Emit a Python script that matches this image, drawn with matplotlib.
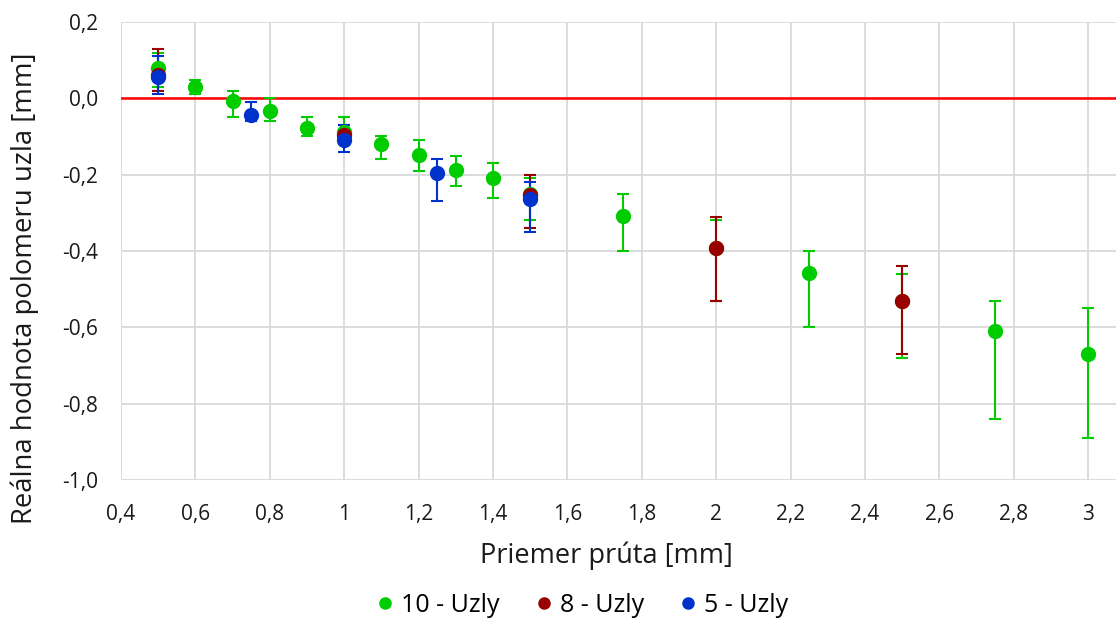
import numpy as np
import matplotlib
matplotlib.use("Agg")
import matplotlib.pyplot as plt
from matplotlib.ticker import FuncFormatter, MultipleLocator

plt.rcParams['font.family'] = ['Open Sans', 'DejaVu Sans']

# 10 - Uzly
x10 = [0.5, 0.6, 0.7, 0.8, 0.9, 1.0, 1.1, 1.2, 1.3, 1.4, 1.5, 1.75, 2.0, 2.25, 2.5, 2.75, 3.0]
y10 = [0.079, 0.030, -0.008, -0.034, -0.077, -0.088, -0.121, -0.149, -0.188, -0.209, -0.250,
       -0.308, -0.392, -0.457, -0.532, -0.609, -0.671]
hi10 = [0.12, 0.049, 0.019, 0.0, -0.05, -0.05, -0.10, -0.11, -0.15, -0.17, -0.21,
        -0.25, -0.32, -0.40, -0.46, -0.53, -0.55]
lo10 = [0.03, 0.01, -0.05, -0.06, -0.10, -0.12, -0.16, -0.19, -0.23, -0.26, -0.32,
        -0.40, -0.53, -0.60, -0.68, -0.84, -0.89]

# 8 - Uzly
x8 = [0.5, 1.0, 1.5, 2.0, 2.5]
y8 = [0.060, -0.095, -0.253, -0.392, -0.532]
hi8 = [0.13, -0.07, -0.20, -0.31, -0.44]
lo8 = [0.019, -0.12, -0.34, -0.53, -0.67]

# 5 - Uzly
x5 = [0.5, 0.75, 1.0, 1.25, 1.5]
y5 = [0.055, -0.043, -0.108, -0.197, -0.263]
hi5 = [0.11, -0.01, -0.07, -0.16, -0.22]
lo5 = [0.01, -0.06, -0.14, -0.27, -0.35]

series = [
    ("10 - Uzly", x10, y10, hi10, lo10, "#00cc00"),
    ("8 - Uzly", x8, y8, hi8, lo8, "#990000"),
    ("5 - Uzly", x5, y5, hi5, lo5, "#0033cc"),
]

fig = plt.figure(figsize=(11.16, 6.19), dpi=100)
ax = fig.add_axes([0.1084, 0.2246, 0.8916, 0.7399])

for label, x, y, hi, lo, col in series:
    y = np.array(y)
    yerr = [y - np.array(lo), np.array(hi) - y]
    ax.errorbar(x, y, yerr=yerr, fmt='o', color=col, ecolor=col, markersize=10,
                elinewidth=1.5, capsize=4.5, capthick=1.5, label=label, zorder=3)

ax.axhline(0, color='#ff0000', linewidth=1.8, zorder=2)

ax.set_xlim(0.4, 3.075)
ax.set_ylim(-1.0, 0.2)
ax.xaxis.set_major_locator(MultipleLocator(0.2))
ax.yaxis.set_major_locator(MultipleLocator(0.2))


def fmt_x(v, pos):
    if abs(v - round(v)) < 1e-6:
        return str(int(round(v)))
    return f"{v:.1f}".replace('.', ',')


def fmt_y(v, pos):
    s = f"{v:.1f}".replace('.', ',')
    if s == "-0,0":
        s = "0,0"
    return s


ax.xaxis.set_major_formatter(FuncFormatter(fmt_x))
ax.yaxis.set_major_formatter(FuncFormatter(fmt_y))
ax.grid(True, color='#d9d9d9', linewidth=1.3)
ax.set_axisbelow(True)
for s in ax.spines.values():
    s.set_visible(False)
ax.tick_params(length=0, labelsize=15, colors='#1a1a1a')
ax.tick_params(axis='x', pad=17)
ax.tick_params(axis='y', pad=16.5)

ax.set_xlabel("Priemer prúta [mm]", fontsize=19.5, color='#1a1a1a')
ax.set_ylabel("Reálna hodnota polomeru uzla [mm]", fontsize=19.8, color='#1a1a1a')
ax.xaxis.set_label_coords(0.488, -0.135)
ax.yaxis.set_label_coords(-0.082, 0.419)

handles, labels = ax.get_legend_handles_labels()
handles = [h[0] for h in handles]
fig.legend(handles, labels, loc='lower center', bbox_to_anchor=(0.52, -0.035), ncol=3,
           frameon=False, fontsize=18, handletextpad=0.15, columnspacing=1.25,
           markerscale=0.8, handlelength=1.0)

fig.savefig("out.png", dpi=100)
